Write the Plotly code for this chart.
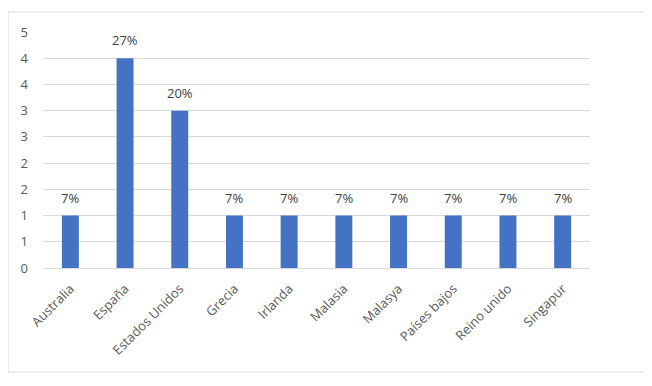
import plotly.graph_objects as go

categories = ["Australia", "España", "Estados Unidos", "Grecia", "Irlanda", "Malasia",
              "Malasya", "Países bajos", "Reino unido", "Singapur"]
values = [1, 4, 3, 1, 1, 1, 1, 1, 1, 1]
pct_labels = ["7%", "27%", "20%", "7%", "7%", "7%", "7%", "7%", "7%", "7%"]
y_tickvals = [0, 0.5, 1, 1.5, 2, 2.5, 3, 3.5, 4, 4.5]
y_ticktext = ["0", "1", "1", "2", "2", "3", "3", "4", "4", "5"]

font_family = "Open Sans, Liberation Sans, sans-serif"
grey = "#595959"

# page body adds an 8px offset, so plot area is placed relative to that
L, T, R, B = 35, 24, 582, 260
W, H = 652, 386
pw, ph = R - L, B - T

fig = go.Figure(go.Bar(
    x=categories, y=values,
    marker=dict(color="#4472C4", line=dict(width=0)),
    cliponaxis=False,
))

for c, v, t in zip(categories, values, pct_labels):
    fig.add_annotation(x=c, y=v, text=t, showarrow=False, yanchor="middle",
                       yshift=18, font=dict(color="#404040", size=13, family=font_family))

fig.update_layout(
    width=W, height=H,
    margin=dict(l=L, r=W - R, t=T, b=H - B),
    paper_bgcolor="white", plot_bgcolor="white",
    bargap=0.69,
    showlegend=False,
    font=dict(family=font_family, color=grey, size=13),
    xaxis=dict(tickangle=-45, showgrid=False, showline=True, linecolor="#d9d9d9",
               linewidth=1, ticks="", ticklabelstandoff=7, automargin=False,
               tickfont=dict(size=13, color=grey)),
    yaxis=dict(range=[0, 4.5], tickvals=y_tickvals, ticktext=y_ticktext,
               showgrid=True, gridcolor="#d9d9d9", gridwidth=1, zeroline=False,
               showline=False, ticks="", ticklabelstandoff=14, automargin=False,
               tickfont=dict(size=13, color=grey)),
    shapes=[dict(type="rect", xref="paper", yref="paper",
                 x0=(0 - L) / pw, x1=(637 - L) / pw,
                 y0=(B - 364) / ph, y1=(B - 4) / ph,
                 line=dict(color="#d9d9d9", width=1), fillcolor="rgba(0,0,0,0)",
                 layer="below")],
)

fig.write_html("out.html")
